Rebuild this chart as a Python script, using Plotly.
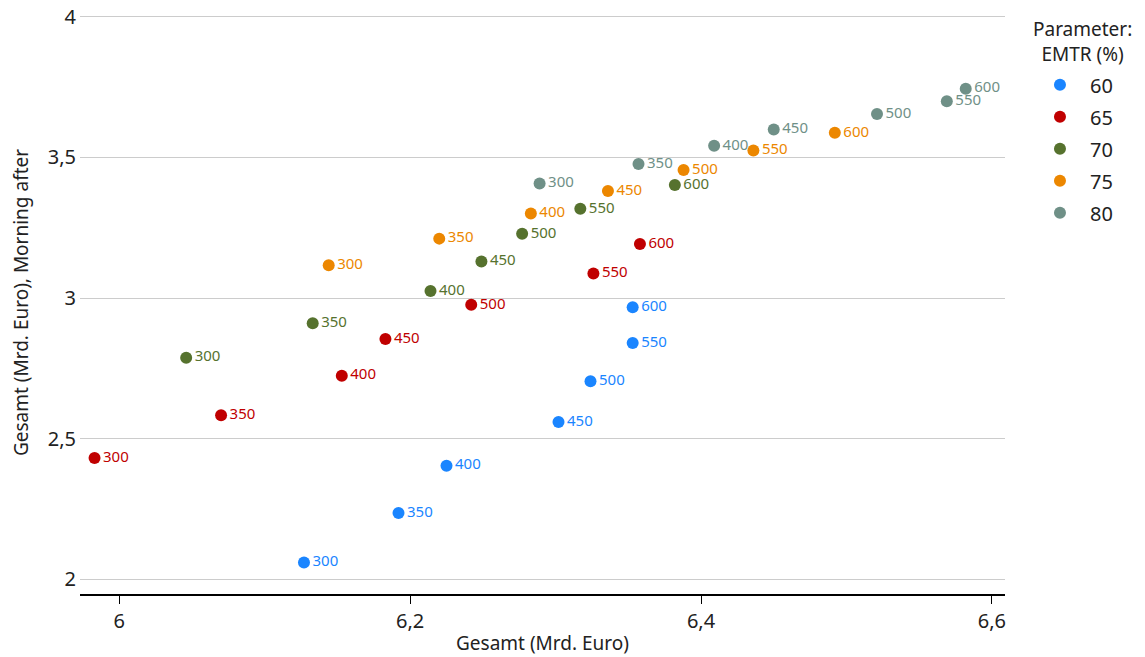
import plotly.graph_objects as go

levels = ["300", "350", "400", "450", "500", "550", "600"]
emtr = ["60", "65", "70", "75", "80"]

x_60 = [6.127, 6.192, 6.225, 6.302, 6.324, 6.353, 6.353]
y_60 = [2.060, 2.236, 2.404, 2.559, 2.704, 2.840, 2.967]
x_65 = [5.983, 6.070, 6.153, 6.183, 6.242, 6.326, 6.358]
y_65 = [2.431, 2.583, 2.724, 2.854, 2.976, 3.087, 3.192]
x_70 = [6.046, 6.133, 6.214, 6.249, 6.277, 6.317, 6.382]
y_70 = [2.788, 2.910, 3.025, 3.130, 3.228, 3.317, 3.402]
x_75 = [6.144, 6.220, 6.283, 6.336, 6.388, 6.436, 6.492]
y_75 = [3.116, 3.211, 3.300, 3.380, 3.455, 3.524, 3.587]
x_80 = [6.289, 6.357, 6.409, 6.450, 6.521, 6.569, 6.582]
y_80 = [3.407, 3.476, 3.541, 3.599, 3.654, 3.699, 3.744]

colors = ["#1a85ff", "#c00000", "#56722e", "#ec8700", "#6f9087"]
xs = [x_60, x_65, x_70, x_75, x_80]
ys = [y_60, y_65, y_70, y_75, y_80]

FONT = "Noto Sans"

fig = go.Figure()
for name, xv, yv, c in zip(emtr, xs, ys, colors):
    fig.add_trace(go.Scatter(
        x=xv, y=yv, name=name, legendgroup=name, mode="markers+text",
        text=levels, textposition="middle right",
        textfont=dict(color=c, size=15, family=FONT),
        marker=dict(color=c, size=12),
        cliponaxis=False,
    ))

fig.add_annotation(
    text="Parameter:<br>EMTR (%)", xref="paper", yref="paper",
    x=1.0843, y=0.9485, xanchor="center", yanchor="middle",
    showarrow=False, align="center", font=dict(size=19, color="#222222"),
)

# page body has an 8px margin, so the figure is sized to the visible area
fig.update_layout(
    width=1137, height=649,
    margin=dict(l=72, r=140, t=3, b=63, autoexpand=False),
    paper_bgcolor="white", plot_bgcolor="white",
    separators=", ",
    font=dict(family=FONT, size=20, color="#222222"),
    legend=dict(
        x=1.027, xanchor="left", y=0.907, yanchor="top",
        font=dict(size=20), itemsizing="constant", itemwidth=50,
        tracegroupgap=3,
    ),
    xaxis=dict(
        range=[5.973, 6.609], tickvals=[6, 6.2, 6.4, 6.6],
        ticktext=["6", "6,2", "6,4", "6,6"],
        showgrid=False, zeroline=False, automargin=False,
        showline=True, linecolor="black", linewidth=1.5,
        ticks="outside", ticklen=8, tickcolor="black",
        title=dict(text="Gesamt (Mrd. Euro)", font=dict(size=19), standoff=4),
        tickfont=dict(size=20),
    ),
    yaxis=dict(
        range=[1.948, 4.02], tickvals=[2, 2.5, 3, 3.5, 4],
        ticktext=["2", "2,5", "3", "3,5", "4"],
        showgrid=True, gridcolor="#cccccc", gridwidth=1.2, zeroline=False,
        showline=False, ticks="", ticklabelstandoff=3, automargin=False,
        ticklabeloverflow="allow",
        title=dict(text="Gesamt (Mrd. Euro), Morning after", font=dict(size=19), standoff=15),
        tickfont=dict(size=20),
    ),
)

fig.write_html("out.html")
